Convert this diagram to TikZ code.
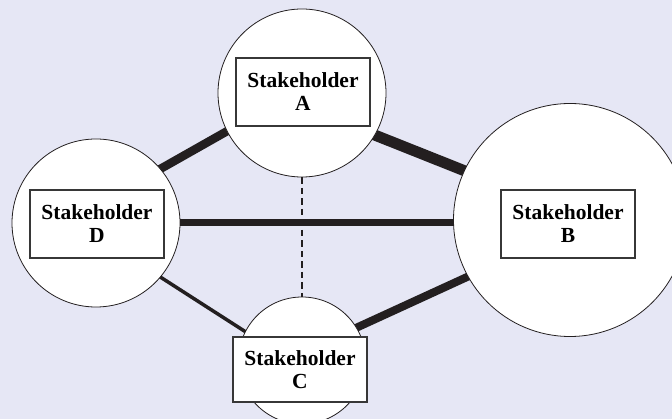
\documentclass[tikz,border=0pt]{standalone}
\usepackage{fontspec}
\setmainfont{Liberation Serif}
\usetikzlibrary{backgrounds}
\definecolor{bgcol}{RGB}{230,231,245}
\definecolor{ink}{RGB}{35,31,32}
\definecolor{boxline}{RGB}{55,55,55}
\tikzset{
  party/.style={circle, draw=ink, line width=0.8pt, fill=white, inner sep=0pt},
  label box/.style={draw=boxline, line width=1.1pt, fill=white, align=center,
    minimum width=134pt, minimum height=68pt, inner sep=0pt,
    font=\fontsize{21.5}{23}\selectfont\bfseries},
  tie/.style={draw=ink, line cap=butt, shorten <=-4pt, shorten >=-4pt},
  weak tie/.style={draw=ink, line width=2pt, dash pattern=on 6.5pt off 4pt}
}
\begin{document}
\begin{tikzpicture}[x=1pt, y=-1pt]
  \useasboundingbox (0,0) rectangle (672,419);

  % stakeholder circles
  \node[party, minimum size=168pt] (A) at (302,93) {};
  \node[party, minimum size=168pt] (D) at (96,223) {};
  \node[party, minimum size=233pt] (B) at (570,220) {};
  \node[party, minimum size=127pt] (C) at (302,360.5) {};

  % name boxes
  \node[label box] (Abox) at (303,92) {Stakeholder\\A};
  \node[label box] (Dbox) at (97,224) {Stakeholder\\D};
  \node[label box] (Bbox) at (568,224) {Stakeholder\\B};
  \node[label box, minimum height=65pt] (Cbox) at (300,369.5) {Stakeholder\\C};

  \begin{pgfonlayer}{background}
    \fill[bgcol] (0,0) rectangle (672,419);
    % relationship lines, thickness = strength of tie
    \draw[tie, line width=11pt] (A.-30) -- (B.155.4);
    \draw[tie, line width=8.5pt] (A.207.6) -- (D.40.7);
    \draw[tie, line width=7pt] (D.east) -- (B.west |- D.east);
    \draw[tie, line width=8pt] (C.31) -- (B.209.7);
    \draw[tie, line width=3.5pt] (D.-40.9) -- (C.153.6);
    \draw[weak tie] (A.south) -- (C.north);
  \end{pgfonlayer}
\end{tikzpicture}
\end{document}
